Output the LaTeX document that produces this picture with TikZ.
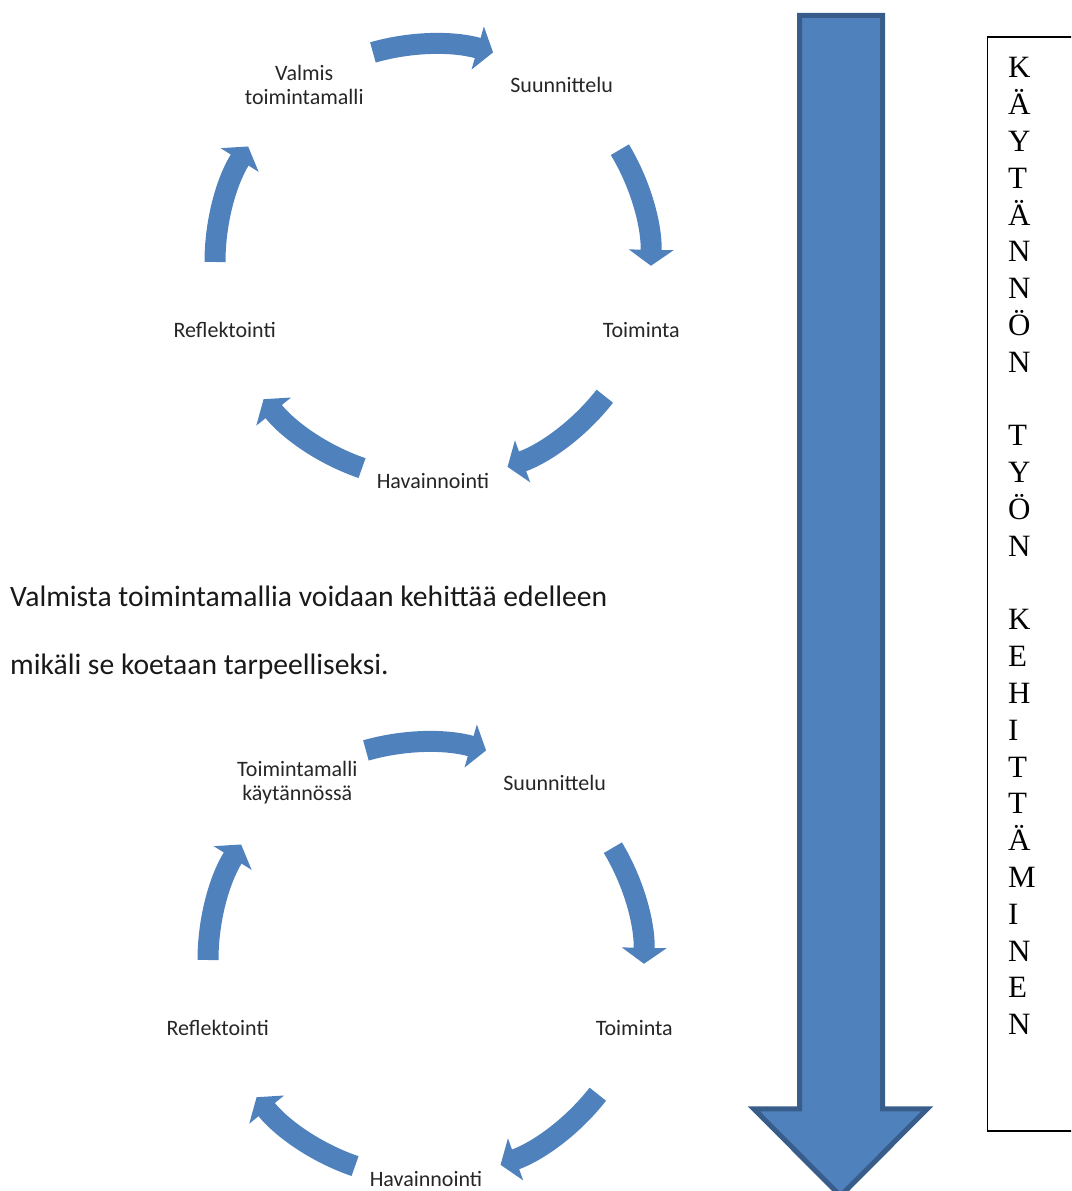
\documentclass[tikz,border=0pt]{standalone}
\usepackage{fontspec}
\setmainfont{Carlito}
\newfontfamily\boxserif{Liberation Serif}
\usetikzlibrary{arrows.meta}

\definecolor{cycleblue}{HTML}{4F81BD}
\definecolor{cycleedge}{HTML}{385D8A}

\tikzset{
  phase/.style={font=\fontsize{22}{24}\selectfont, align=center, inner sep=0pt, text=black!85},
  turn/.style={draw=cycleblue, line width=21pt, -{Triangle[length=16pt,width=44pt]}},
  remark/.style={font=\fontsize{29.6}{34}\selectfont, anchor=base west, inner sep=0pt, text=black!90},
  letter/.style={font=\boxserif\fontsize{31}{36.8}\selectfont, anchor=base west, inner sep=0pt},
}

% one cycle: name, centre x, centre y, first phase
\newcommand{\phasecycle}[4]{
  \coordinate (#1c) at (#2,#3);
  \node[phase] (#1start) at ([shift={(126:219)}]#1c) {#4};
  \node[phase] (#1plan) at ([shift={(54:219)}]#1c) {Suunnittelu};
  \node[phase] (#1act) at ([shift={(-18:219)}]#1c) {Toiminta};
  \node[phase] (#1obs) at ([shift={(-90:219)}]#1c) {Havainnointi};
  \node[phase] (#1refl) at ([shift={(198:219)}]#1c) {Reflektointi};
  \foreach \mid in {90,15,-54,-125,164}
    \draw[turn] ([shift={({\mid+16}:218)}]#1c) arc[start angle=\mid+16, end angle=\mid-16, radius=218];
}

\begin{document}
\begin{tikzpicture}[x=1pt, y=1pt]
\useasboundingbox (0,0) rectangle (1071,1191);
\clip (0,0) rectangle (1071,1191);

\phasecycle{a}{433}{929}{Valmis\\toimintamalli}
\phasecycle{b}{426}{231}{Toimintamalli\\käytännössä}

\node[remark] (note1) at (10,584) {Valmista toimintamallia voidaan kehittää edelleen};
\node[remark] (note2) at (10,516) {mikäli se koetaan tarpeelliseksi.};

% big arrow down
\draw[line width=5pt, draw=cycleedge, fill=cycleblue]
  (799.5,1175.5) -- (882.5,1175.5) -- (882.5,82) -- (927,82) -- (840.5,-5)
  -- (754,82) -- (799.5,82) -- cycle;

% vertical caption
\draw[line width=1.5pt] (987.5,60) rectangle (1100,1154);
\foreach \ch [count=\i] in {K,Ä,Y,T,Ä,N,N,Ö,N,{},T,Y,Ö,N,{},K,E,H,I,T,T,Ä,M,I,N,E,N}
  \node[letter] (ch\i) at (1008,{1113-36.8*(\i-1)}) {\ch};

\end{tikzpicture}
\end{document}
